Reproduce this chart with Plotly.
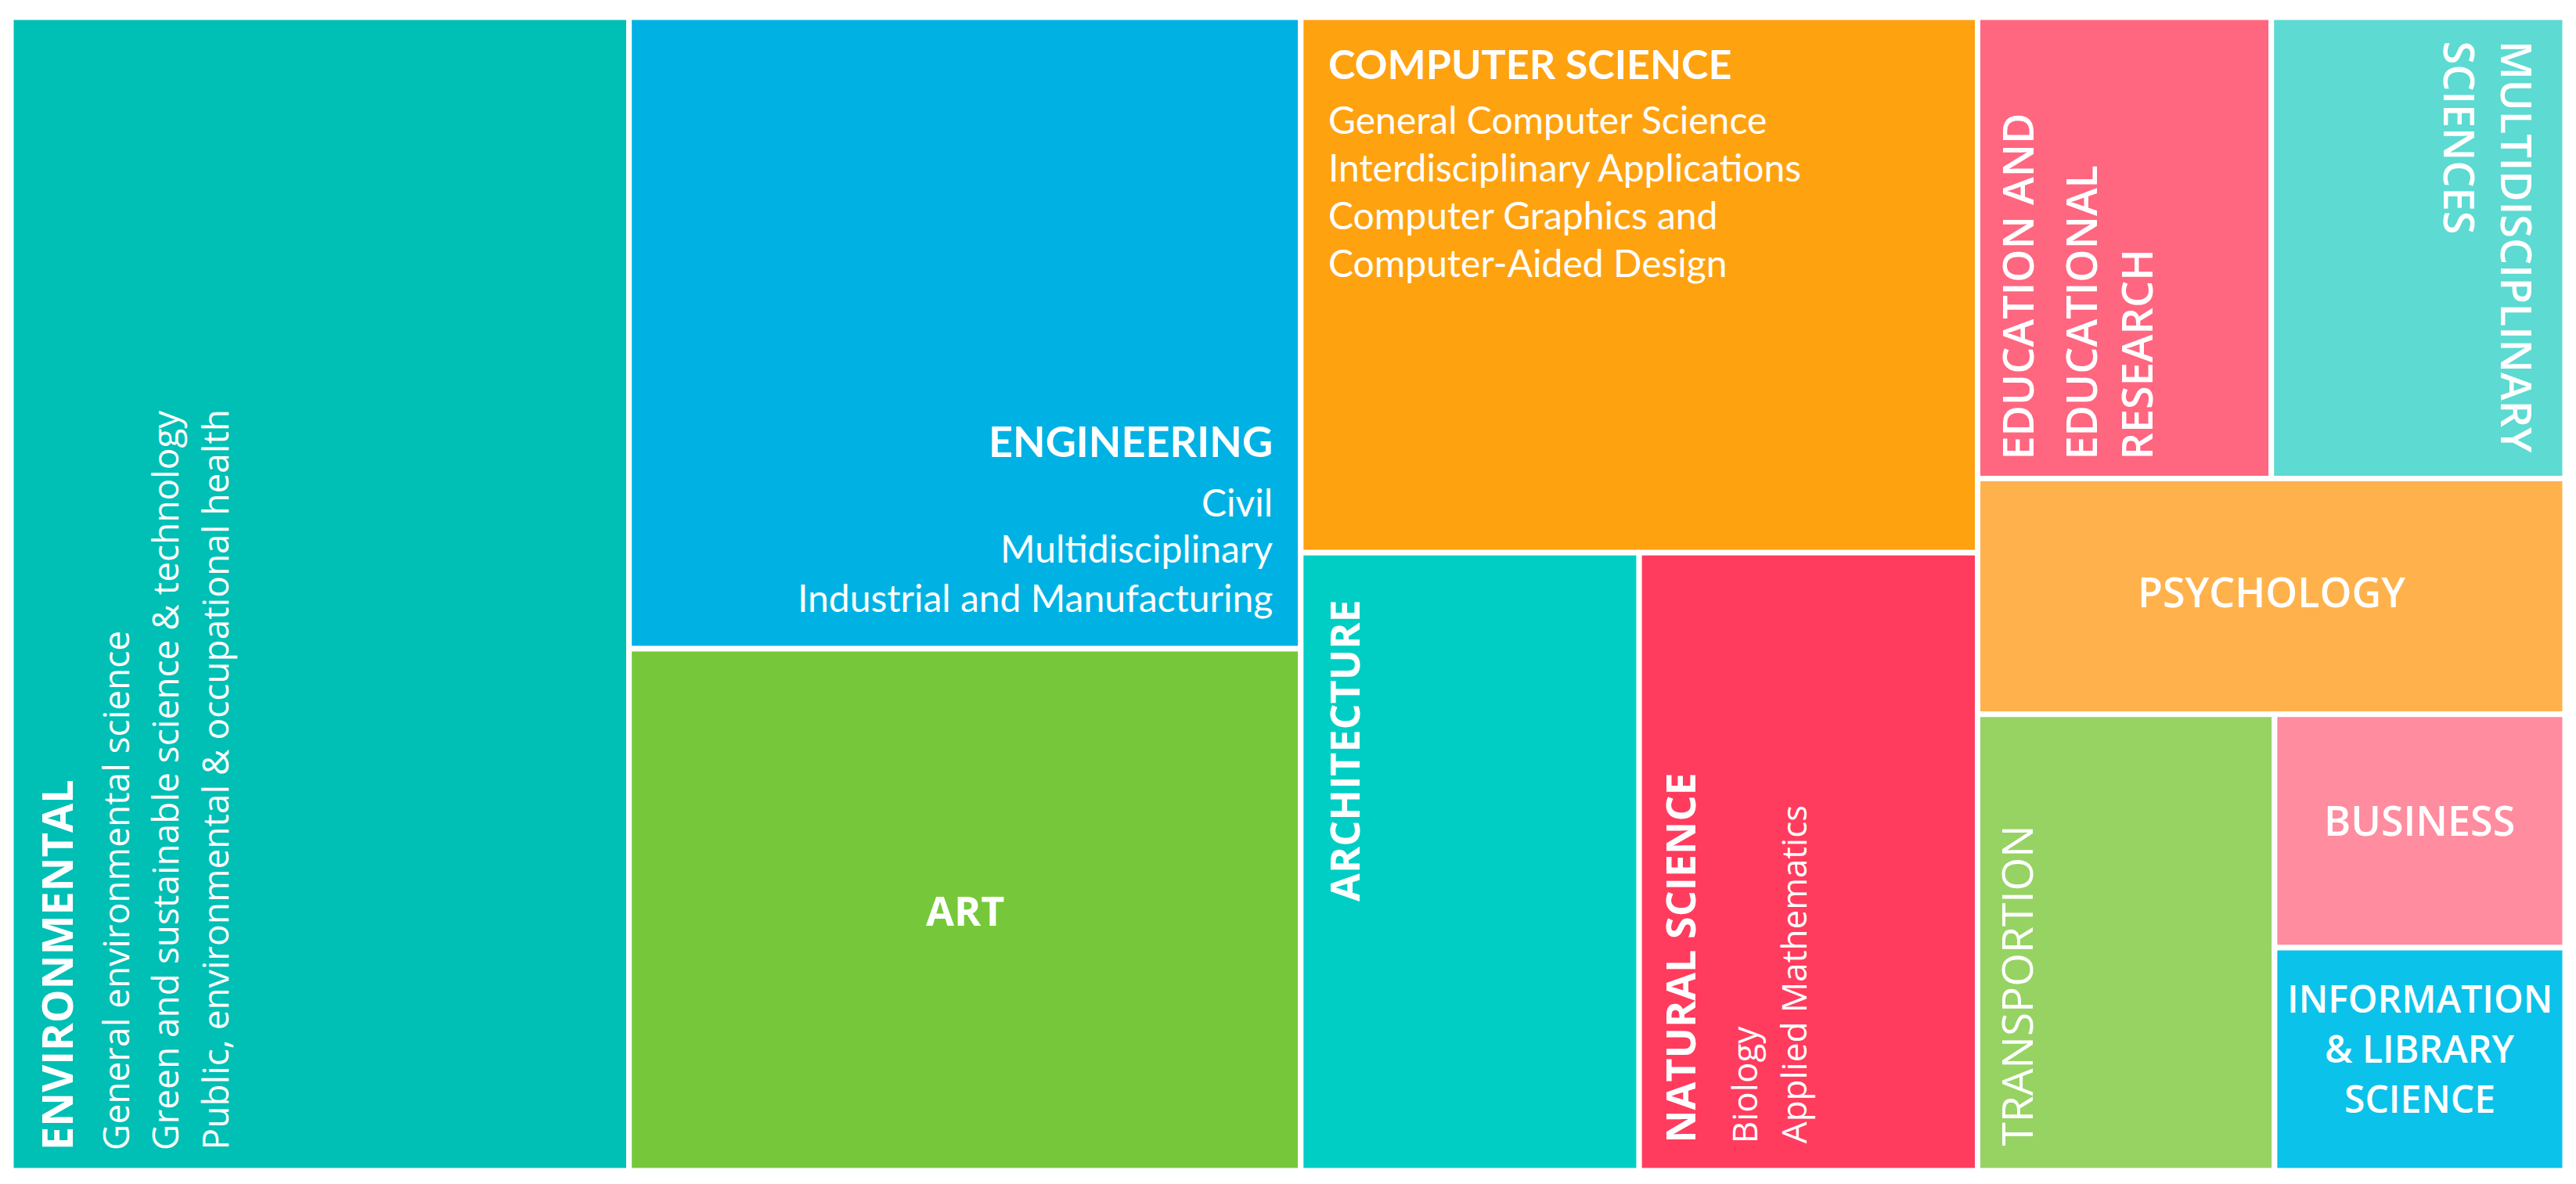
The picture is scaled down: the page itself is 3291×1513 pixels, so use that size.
import plotly.graph_objects as go

# share of publications per field (%), read from the tile areas
categories = [
    "ENVIRONMENTAL", "ENGINEERING", "ART", "COMPUTER SCIENCE",
    "ARCHITECTURE", "NATURAL SCIENCE", "EDUCATION AND EDUCATIONAL RESEARCH",
    "MULTIDISCIPLINARY SCIENCES", "PSYCHOLOGY", "TRANSPORTION", "BUSINESS",
    "INFORMATION & LIBRARY SCIENCE",
]
values = [24.2, 14.4, 11.9, 12.3, 7.1, 7.1, 4.6, 4.6, 4.7, 4.6, 2.3, 2.2]
colors = [
    "#00BFB5", "#00B2E4", "#76C83A", "#FFA210", "#00CEC4", "#FF3C5E",
    "#FF6680", "#5DDAD2", "#FFB24C", "#96D363", "#FF8C9F", "#0BC2EA",
]
subfields = {
    0: ["General environmental science",
        "Green and sustainable science & technology",
        "Public, environmental & occupational health"],
    1: ["Civil", "Multidisciplinary", "Industrial and Manufacturing"],
    3: ["General Computer Science", "Interdisciplinary Applications",
        "Computer Graphics and", "Computer-Aided Design"],
    5: ["Biology", "Applied Mathematics"],
}

# nesting of the tiles: columns -> rows -> columns -> rows
groups = [[0], [1, 2], [3, [4, 5]], [[6, 7], 8, [9, [10, 11]]]]


def weight(node):
    if isinstance(node, int):
        return values[node]
    return sum(weight(n) for n in node)


def slice_dice(node, x0, x1, y0, y1, depth, out):
    if isinstance(node, int):
        out[node] = (x0, x1, y0, y1)
        return
    total = weight(node)
    pos = x0 if depth % 2 == 0 else y0
    for child in node:
        frac = weight(child) / total
        if depth % 2 == 0:
            step = (x1 - x0) * frac
            slice_dice(child, pos, pos + step, y0, y1, depth + 1, out)
        else:
            step = (y1 - y0) * frac
            slice_dice(child, x0, x1, pos, pos + step, depth + 1, out)
        pos += step


rects = {}
slice_dice(groups, 0.0, 1.0, 0.0, 1.0, 0, rects)

fig = go.Figure()
for i, cat in enumerate(categories):
    x0, x1, y0, y1 = rects[i]
    fig.add_shape(type="rect", xref="x", yref="y", x0=x0, x1=x1, y0=y0, y1=y1,
                  fillcolor=colors[i], line=dict(color="white", width=7), layer="below")

OPEN = "Open Sans"
CALI = "Lato"


def label(i, text, x, y, xa, ya, dx=0, dy=0, size=52, weight_=700, angle=0, family=OPEN, align="left"):
    x0, x1, y0, y1 = rects[i]
    xs = {"l": x0, "r": x1, "c": (x0 + x1) / 2}[x]
    ys = {"t": y0, "b": y1, "c": (y0 + y1) / 2}[y]
    fig.add_annotation(x=xs, y=ys, xref="x", yref="y", text=text, showarrow=False,
                       xanchor=xa, yanchor=ya, xshift=dx, yshift=dy, textangle=angle,
                       align=align,
                       font=dict(family=family, size=size, color="white", weight=weight_))


# ENVIRONMENTAL
label(0, categories[0], "l", "b", "center", "bottom", dx=58, dy=24, size=54, angle=-90)
for k, off in enumerate([133, 196, 259]):
    label(0, subfields[0][k], "l", "b", "center", "bottom", dx=off, dy=24, size=46, weight_=400, angle=-90)

# ENGINEERING
label(1, categories[1], "r", "b", "right", "middle", dx=-34, dy=266, size=54, family=CALI)
for k, off in enumerate([188, 129, 66]):
    label(1, subfields[1][k], "r", "b", "right", "middle", dx=-34, dy=off, size=48, weight_=400, family=CALI)

# ART
label(2, categories[2], "c", "c", "center", "middle")

# COMPUTER SCIENCE
label(3, categories[3], "l", "t", "left", "middle", dx=33, dy=-59, size=52, family=CALI)
for k, off in enumerate([130, 191, 252, 313]):
    label(3, subfields[3][k], "l", "t", "left", "middle", dx=33, dy=-off, size=48, weight_=400, family=CALI)

# ARCHITECTURE
label(4, categories[4], "l", "t", "center", "top", dx=54, dy=-58, angle=-90)

# NATURAL SCIENCE
label(5, categories[5], "l", "b", "center", "bottom", dx=51, dy=33, angle=-90)
for k, off in enumerate([134, 197]):
    label(5, subfields[5][k], "l", "b", "center", "bottom", dx=off, dy=33, size=44, weight_=400, angle=-90)

# EDUCATION AND EDUCATIONAL RESEARCH
for txt, off in zip(["EDUCATION AND", "EDUCATIONAL", "RESEARCH"], [51, 132, 203]):
    label(6, txt, "l", "b", "center", "bottom", dx=off, dy=22, size=54, weight_=600, angle=-90)

# MULTIDISCIPLINARY SCIENCES
for txt, off in zip(["MULTIDISCIPLINARY", "SCIENCES"], [61, 134]):
    label(7, txt, "r", "t", "center", "top", dx=-off, dy=-28, size=54, weight_=600, angle=90)

# PSYCHOLOGY
label(8, categories[8], "c", "c", "center", "middle", dy=7, weight_=600)

# TRANSPORTION
label(9, categories[9], "l", "b", "center", "bottom", dx=48, dy=29, size=55, weight_=400, angle=-90)

# BUSINESS
label(10, categories[10], "c", "c", "center", "middle", dy=14, weight_=600)

# INFORMATION & LIBRARY SCIENCE
for txt, off in zip(["INFORMATION", "&amp; LIBRARY", "SCIENCE"], [78, 14, -50]):
    label(11, txt, "c", "c", "center", "middle", dy=off, size=48, weight_=600)

fig.update_xaxes(range=[0, 1], visible=False, fixedrange=True)
fig.update_yaxes(range=[1, 0], visible=False, fixedrange=True)
# the page body adds an 8 px margin, so the figure is kept 16 px smaller
fig.update_layout(
    width=3275, height=1497,
    margin=dict(l=6, r=6, t=14, b=9),
    plot_bgcolor="white", paper_bgcolor="white",
    showlegend=False,
)

fig.write_html("out.html")
